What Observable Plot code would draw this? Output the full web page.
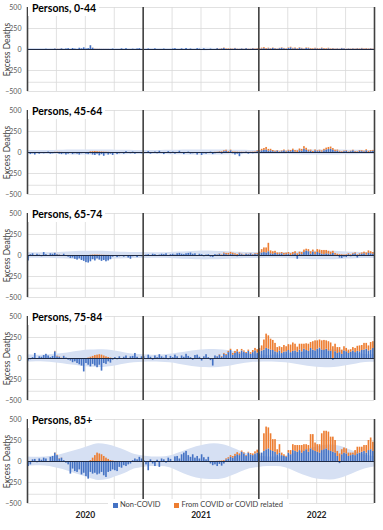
<!DOCTYPE html>
<html>
<head>
<meta charset="utf-8">
<script src="https://cdn.jsdelivr.net/npm/d3@7"></script>
<script src="https://cdn.jsdelivr.net/npm/@observablehq/plot@0.6"></script>
<style>
  body { margin: 0; background: #fff; font-family: Lato, "Open Sans", sans-serif; }
  #chart { position: relative; width: 383px; height: 530px; overflow: hidden; }
  .panel { position: absolute; left: 0; width: 383px; }
  .panel svg { display: block; }
  .ttl { position: absolute; left: 28px; background: #fff; font-weight: bold; font-size: 10.5px;
         line-height: 14px; padding: 0 3px 1px 4px; color: #000; white-space: nowrap; }
  .legend { position: absolute; top: 499px; left: 108px; height: 12px; line-height: 12px; background: #fff;
            font-size: 7.5px; color: #404040; padding: 0 6px 0 5px; display: flex; align-items: center; white-space: nowrap; }
  .sw { display: inline-block; width: 5px; height: 5px; margin-right: 2px; }
</style>
</head>
<body>
<div id="chart"></div>
<script>
// ---------- data (weekly excess deaths, 52 weeks per year: 2020, 2021, 2022) ----------
const years = [2020, 2021, 2022];
const seriesNames = ["Non-COVID", "From COVID or COVID related"];
const panelTitles = ["Persons, 0-44", "Persons, 45-64", "Persons, 65-74", "Persons, 75-84", "Persons, 85+"];
const yTickValues = [500, 250, 0, -250, -500];
const yGridValues = [500, 250, -250, -390, -500];

// Persons 0-44
const nonCovid_0_44 = [
  -8,-5,-10,-6,-4,-8,-10,-5,3,-6, -8,-4,5,-3,-6,8,-4,6,10,-5, 12,4,-3,15,8,20,6,10,45,15, -5,-10,-8,-12,-6,-10,-4,-8,5,-6, -10,-3,8,-5,10,-4,-8,4,-6,6, 10,-5,
  -5,-8,6,-10,-4,8,-6,-12,-4,5, -8,-10,-3,6,10,-6,-4,8,-5,12, -4,6,-8,-5,10,4,-6,8,-4,-10, 5,-8,-6,10,-4,6,12,-5,-8,4, -6,10,-4,-8,6,-5,10,-4,-6,8, -5,4,
  -4,6,10,-5,8,4,12,6,-4,10, 15,8,-5,12,20,6,10,-4,15,8, -6,12,10,4,-5,8,6,-8,10,4, -6,8,-4,6,-8,4,-5,10,6,-6, 4,-8,5,-4,6,-5,8,-6,4,-4, 6,-5
];
const covid_0_44 = [
  0,0,0,0,0,0,0,0,0,0, 0,0,1,2,1,1,0,0,0,0, 0,0,0,0,0,0,0,0,1,2, 3,2,2,1,1,1,1,0,0,0, 0,0,0,0,0,0,0,0,0,0, 0,0,
  0,0,0,0,0,0,0,0,0,0, 0,0,0,0,0,0,0,0,0,0, 0,0,0,0,0,0,0,0,0,0, 0,0,0,2,3,4,5,6,6,5, 4,3,3,2,2,2,2,3,3,4, 5,6,
  8,10,12,10,8,6,5,5,4,4, 5,5,6,6,7,8,8,7,6,6, 5,6,7,8,8,7,6,6,7,8, 8,7,6,5,4,4,3,3,3,3, 3,4,4,4,5,5,5,6,6,5, 5,4
];

// Persons 45-64
const nonCovid_45_64 = [
  -10,-25,-15,-30,-10,-20,-5,-15,-10,5, -20,-15,-10,-5,-20,-25,-15,-30,-20,-10, -25,-15,-20,-30,-15,-10,-20,-25,-15,-30, -35,-20,-40,-25,-45,-15,-30,-20,-35,-10, -25,-15,-5,-20,10,-10,-15,5,-20,-10, -5,-15,
  -15,-5,10,-20,-10,5,-15,15,-10,-25, -5,10,-15,5,-20,-10,15,-5,-25,-10, 5,-20,-15,-10,-30,-5,-35,-15,-20,-10, 5,-25,-15,-10,5,-20,10,15,-10,20, -15,-30,-20,-50,-15,-10,5,-20,-10,-15, -5,10,
  10,20,25,30,15,20,10,5,15,-5, 10,20,5,15,10,25,5,-10,20,15, 40,25,10,15,-5,20,10,15,5,20, 30,35,40,25,10,15,5,-10,10,15, -5,10,20,5,-10,15,10,5,20,-5, 10,15
];
const covid_45_64 = [
  0,0,0,0,0,0,0,0,0,0, 0,0,2,3,2,1,0,0,0,0, 0,0,0,0,0,0,0,0,8,10, 12,10,8,6,4,3,2,0,0,0, 0,0,0,0,0,0,0,0,0,0, 0,0,
  0,0,0,0,0,0,0,0,0,0, 0,0,0,0,0,0,0,0,0,0, 0,0,0,0,0,0,0,0,0,0, 0,0,2,3,5,8,10,12,10,8, 6,5,4,3,3,2,2,2,3,4, 6,10,
  10,18,22,30,22,18,14,10,8,7, 8,10,10,12,14,15,18,20,22,22, 30,25,18,14,12,10,10,12,14,18, 22,25,25,22,18,14,10,8,7,7, 6,6,7,7,8,8,10,10,12,14, 12,10
];

// Persons 65-74
const nonCovid_65_74 = [
  -65,10,20,-10,15,5,-15,35,10,-5, 20,15,25,10,5,-10,15,-5,-20,-35, -30,-45,-55,-40,-60,-70,-85,-90,-75,-50, -65,-40,-55,-70,-60,-75,-65,-50,-20,-10, -25,-15,-5,-20,-10,-30,-45,-15,-10,-25, -5,-15,
  -10,5,10,-5,15,10,-10,5,15,10, 20,-5,10,15,5,20,25,15,10,20, 25,30,15,20,-10,15,10,-15,5,10, -20,-25,10,5,15,-10,20,10,5,15, 10,5,-15,20,10,-5,15,10,20,5, 15,10,
  20,30,35,30,45,20,15,25,10,15, 20,5,10,15,-5,10,20,-45,15,10, 35,55,45,15,40,10,35,25,15,10, 20,15,10,25,5,-10,-30,-35,-20,-25, 10,-15,15,20,-30,10,15,20,5,25, 20,15
];
const covid_65_74 = [
  0,0,0,0,0,0,0,0,0,0, 0,0,2,3,2,1,0,0,0,0, 0,0,0,0,0,0,0,0,3,5, 6,5,4,3,2,1,1,0,0,0, 0,0,0,0,0,0,0,0,0,0, 0,0,
  0,0,0,0,0,0,0,0,0,0, 0,0,0,0,0,0,0,0,0,0, 0,0,0,0,0,0,0,0,0,0, 0,0,0,2,4,6,10,15,20,22, 18,15,12,8,6,5,4,4,5,6, 8,12,
  20,40,55,60,100,35,30,25,20,15, 15,20,18,20,22,25,25,20,25,25, 30,20,25,30,25,30,35,40,45,50, 40,35,30,25,20,15,10,8,5,8, 10,8,10,12,8,10,15,20,25,30, 25,20
];

// Persons 75-84
const nonCovid_75_84 = [
  -30,-15,10,60,-10,20,15,35,50,30, 10,25,80,20,15,-10,25,5,-20,-30, -50,-40,-60,-75,-90,-160,-60,-80,-100,-70, -90,-110,-80,-150,-60,-70,-40,-55,-20,10, -15,20,-10,15,30,-5,20,25,60,15, -10,20,
  20,-10,40,15,-20,30,10,45,20,5, 35,-15,25,10,40,20,-10,30,15,50, 25,10,-20,35,40,15,-30,20,45,10, -25,-90,30,20,40,15,50,35,70,95, 40,60,80,55,90,75,60,85,50,70, 90,65,
  80,90,100,120,110,100,95,80,70,90, 60,75,80,95,70,85,90,75,100,80, 110,95,85,120,100,90,110,125,100,95, 110,90,85,-20,80,60,70,50,90,80, 60,75,90,70,85,80,95,100,110,90, 100,120
];
const covid_75_84 = [
  0,0,0,0,0,0,0,0,0,0, 0,0,5,8,5,3,2,0,0,0, 0,0,0,0,0,0,0,5,15,25, 35,40,45,40,30,20,12,5,0,0, 0,0,0,0,0,0,0,0,0,0, 0,0,
  0,0,0,0,0,0,0,0,0,0, 0,0,0,0,0,0,0,0,0,0, 0,0,0,0,0,0,0,0,0,0, 0,0,0,3,5,8,10,12,15,15, 20,25,25,20,18,15,12,15,20,25, 30,40,
  40,60,120,170,160,130,120,100,60,50, 70,80,60,70,90,100,80,60,70,90, 60,80,85,70,100,120,100,95,110,120, 100,110,100,140,90,70,60,50,50,40, 40,30,40,50,60,70,60,80,70,60, 90,80
];

// Persons 85+
const nonCovid_85 = [
  -60,-40,20,25,-15,30,15,40,30,-10, 50,60,100,70,30,40,10,-20,-40,-150, -90,-120,-130,-100,-160,-140,-180,-210,-130,-150, -140,-160,-150,-130,-170,-190,-130,-120,-100,-110, -120,-70,-80,-50,-60,-40,-30,10,30,20, 50,30,
  10,-40,-110,20,-30,-60,15,-70,30,20, -20,40,25,-10,55,60,30,80,100,120, 70,50,80,40,60,30,80,45,20,50, -30,-50,-40,-60,-35,-55,-30,20,30,50, 40,60,80,70,110,90,60,100,80,70, 90,100,
  90,100,120,140,150,130,120,110,80,100, 70,60,50,100,80,130,120,110,130,100, 120,140,110,150,130,120,110,100,130,140, 150,130,120,110,100,60,-25,80,100,90, 60,70,80,70,90,100,110,120,100,130, 140,120
];
const covid_85 = [
  0,0,0,0,0,0,0,0,0,0, 0,0,3,6,4,2,0,0,0,0, 0,0,0,0,0,0,0,0,10,40, 70,100,90,80,60,40,25,10,5,0, 0,0,0,0,0,0,0,0,0,0, 0,0,
  0,0,0,0,0,0,0,0,0,0, 0,0,0,0,0,0,0,0,0,0, 0,0,0,0,0,0,0,0,0,0, 0,0,0,2,4,6,10,12,15,20, 20,25,25,20,15,12,10,10,15,20, 25,35,
  10,0,210,270,250,200,140,150,60,100, 30,20,10,30,50,70,70,80,60,90, 80,60,80,170,190,100,90,100,200,220, 210,220,170,180,150,60,90,60,60,60, 40,30,20,60,80,70,60,70,90,120, 140,110
];

// Expected range band (read every 4 weeks, 40 knots from 2020 wk 0 to 2023 wk 0)
const bandHi_0_44 = [12,12,12,12,12,13,13,13,13,12,12,12,12, 12,12,12,12,12,13,13,14,13,12,12,12,12, 12,12,12,12,12,13,13,13,13,12,12,12,12, 12];
const bandLo_0_44 = [-12,-12,-12,-12,-12,-13,-13,-13,-13,-12,-12,-12,-12, -12,-12,-12,-12,-12,-13,-13,-14,-13,-12,-12,-12,-12, -12,-12,-12,-12,-12,-13,-13,-13,-13,-12,-12,-12,-12, -12];
const bandHi_45_64 = [25,24,24,25,27,29,30,31,30,29,27,26,25, 25,24,24,26,28,30,31,31,30,29,27,26,25, 25,24,24,25,27,29,30,31,30,29,27,26,25, 25];
const bandLo_45_64 = [-25,-24,-24,-25,-27,-29,-30,-31,-30,-29,-27,-26,-25, -25,-24,-24,-26,-28,-30,-31,-31,-30,-29,-27,-26,-25, -25,-24,-24,-25,-27,-29,-30,-31,-30,-29,-27,-26,-25, -25];
const bandHi_65_74 = [35,32,33,36,40,45,50,52,52,48,42,38,35, 35,32,33,36,41,46,51,53,52,48,42,38,35, 35,32,33,36,40,45,50,52,52,48,42,38,35, 35];
const bandLo_65_74 = [-35,-32,-33,-36,-40,-45,-50,-52,-52,-48,-42,-38,-35, -35,-32,-33,-36,-41,-46,-51,-53,-52,-48,-42,-38,-35, -35,-32,-33,-36,-40,-45,-50,-52,-52,-48,-42,-38,-35, -35];
const bandHi_75_84 = [45,40,42,50,60,75,90,100,105,100,85,65,50, 45,40,42,50,65,80,95,105,108,100,85,65,50, 45,40,42,50,62,78,92,102,105,98,82,63,48, 45];
const bandLo_75_84 = [-45,-40,-42,-50,-62,-78,-92,-102,-108,-100,-85,-65,-50, -45,-42,-45,-52,-68,-85,-100,-108,-110,-102,-85,-66,-50, -45,-42,-45,-52,-66,-84,-98,-108,-110,-100,-84,-64,-48, -45];
const bandHi_85 = [55,50,55,65,90,120,150,185,210,200,170,130,85, 65,55,55,65,100,140,175,200,210,200,165,120,80, 65,55,55,65,95,130,160,185,195,185,150,110,75, 60];
const bandLo_85 = [-55,-50,-55,-70,-95,-130,-165,-200,-225,-215,-180,-140,-90, -70,-60,-60,-75,-120,-165,-195,-210,-215,-205,-170,-125,-85, -70,-60,-60,-75,-115,-160,-195,-215,-220,-205,-170,-125,-85, -65];

// ---------- build ----------
const panels = [
  {title: panelTitles[0], nc: nonCovid_0_44, cv: covid_0_44, hi: bandHi_0_44, lo: bandLo_0_44},
  {title: panelTitles[1], nc: nonCovid_45_64, cv: covid_45_64, hi: bandHi_45_64, lo: bandLo_45_64},
  {title: panelTitles[2], nc: nonCovid_65_74, cv: covid_65_74, hi: bandHi_65_74, lo: bandLo_65_74},
  {title: panelTitles[3], nc: nonCovid_75_84, cv: covid_75_84, hi: bandHi_75_84, lo: bandLo_75_84},
  {title: panelTitles[4], nc: nonCovid_85, cv: covid_85, hi: bandHi_85, lo: bandLo_85}
];
panels.forEach(p => {
  if (p.nc.length !== 156 || p.cv.length !== 156 || p.hi.length !== 40 || p.lo.length !== 40)
    throw new Error(p.title + " lengths " + p.nc.length + " " + p.cv.length + " " + p.hi.length + " " + p.lo.length);
});

const colors = ["#4472C4", "#ED7D31"];
const x0 = years[0], x1end = years[years.length - 1] + 1;
const yearLines = d3.range(x0, x1end + 1);
const quarterLines = d3.range(x0, x1end, 0.25).filter(v => v % 1 !== 0);
const yearMids = years.map(y => y + 0.5);

const chart = document.getElementById("chart");

panels.forEach((p, k) => {
  const last = k === panels.length - 1;
  const rows = [];
  p.nc.forEach((v, i) => rows.push({a: x0 + i / 52, b: x0 + (i + 1) / 52, v, s: seriesNames[0]}));
  p.cv.forEach((v, i) => rows.push({a: x0 + i / 52, b: x0 + (i + 1) / 52, v, s: seriesNames[1]}));
  const band = p.hi.map((h, j) => ({t: x0 + j * 4 / 52, hi: h, lo: p.lo[j]}));

  const svg = Plot.plot({
    width: 383,
    height: last ? 118 : 103,
    marginLeft: 27, marginRight: 9, marginTop: 7, marginBottom: last ? 27 : 12,
    style: {fontFamily: "Lato, 'Open Sans', sans-serif", background: "#fff", overflow: "visible"},
    x: {domain: [x0, x1end], axis: last ? undefined : null},
    y: {domain: [-500, 500]},
    color: {domain: seriesNames, range: colors},
    marks: [
      Plot.ruleY(yGridValues, {stroke: "#d9d9d9", strokeWidth: 0.8}),
      Plot.ruleX(quarterLines, {stroke: "#d9d9d9", strokeWidth: 0.8}),
      Plot.areaY(band, {x: "t", y1: "lo", y2: "hi", fill: "#d6e0f3", curve: "monotone-x"}),
      Plot.rectY(rows, {x1: "a", x2: "b", y: "v", fill: "s", insetLeft: 0.3, insetRight: 0.3}),
      Plot.ruleY([0], {stroke: "#1f2a44", strokeWidth: 1}),
      Plot.ruleX(yearLines, {stroke: "#404040", strokeWidth: 1.6}),
      Plot.axisY(yTickValues, {tickSize: 0, tickPadding: 6, fontSize: 7, fill: "#595959", label: null}),
      Plot.text(["Excess Deaths"], {text: d => d, frameAnchor: "left", textAnchor: "middle", rotate: -90, dx: -20, fontSize: 8.5, fill: "#404040"}),
      last ? Plot.axisX(yearMids, {tickSize: 0, tickPadding: 8, tickFormat: d => String(Math.floor(d)),
                                   fontSize: 8.5, fontWeight: "bold", fill: "#222", label: null}) : null
    ]
  });

  const div = document.createElement("div");
  div.className = "panel";
  div.style.top = (k * 103) + "px";
  div.appendChild(svg);
  const t = document.createElement("div");
  t.className = "ttl";
  t.style.top = "1px";
  t.textContent = p.title;
  div.appendChild(t);
  chart.appendChild(div);
});

const legend = document.createElement("div");
legend.className = "legend";
seriesNames.forEach((name, i) => {
  const sw = document.createElement("span");
  sw.className = "sw";
  sw.style.background = colors[i];
  const lb = document.createElement("span");
  lb.textContent = name;
  if (i === 0) lb.style.marginRight = "14px";
  legend.appendChild(sw);
  legend.appendChild(lb);
});
chart.appendChild(legend);
</script>
</body>
</html>
